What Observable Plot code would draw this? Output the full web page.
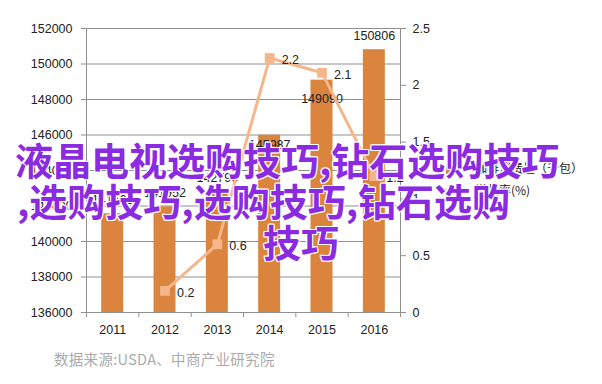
<!DOCTYPE html>
<html>
<head>
<meta charset="utf-8">
<script src="https://cdn.jsdelivr.net/npm/d3@7"></script>
<script src="https://cdn.jsdelivr.net/npm/@observablehq/plot@0.6"></script>
<style>
  html, body { margin: 0; padding: 0; background: #fff; }
  #wrap { position: relative; width: 602px; height: 384px; overflow: hidden; background: #fff; }
  #chart { position: absolute; left: 0; top: 0; }
  .legend-item { position: absolute; font-family: "Noto Sans CJK SC", sans-serif; font-size: 12px; color: #222; line-height: 16px; white-space: nowrap; }
  #source { position: absolute; left: 54px; top: 348px; font-family: "Noto Sans CJK SC", sans-serif; font-size: 14.5px; color: #aaaaaa; white-space: nowrap; letter-spacing: 0.3px; }
  .ov { position: absolute; font-family: "Noto Sans CJK SC", sans-serif; font-weight: 700; font-size: 38px; line-height: 41px; color: #8a2be2; white-space: nowrap;
        text-shadow: 1px 0 0 #fff, -1px 0 0 #fff, 0 1px 0 #fff, 0 -1px 0 #fff, 1px 1px 0 #fff, -1px -1px 0 #fff, 1px -1px 0 #fff, -1px 1px 0 #fff; }
</style>
</head>
<body>
<div id="wrap">
  <div id="chart"></div>
</div>
<script>
const years = [2011, 2012, 2013, 2014, 2015, 2016];
const consumption = [141565, 141952, 142796, 145987, 149090, 150806];
const growthRate = [null, 0.19, 0.6, 2.24, 2.11, 1.2];
const leftTicks = [136000, 138000, 140000, 142000, 144000, 146000, 148000, 150000, 152000];
const rightTicks = [0, 0.5, 1, 1.5, 2, 2.5];
const seriesNames = ["咖啡消费量（千包）", "增长率(%)"];
const sourceNote = "数据来源:USDA、中商产业研究院";
const overlayLines = ["液晶电视选购技巧,钻石选购技巧", ",选购技巧,选购技巧,钻石选购", "技巧"];

const BAR = "#db843d";
const LINE = "#f6b68c";
const GRID = "#8f8f8f";

const yMin = leftTicks[0], yMax = leftTicks[leftTicks.length - 1];
const rMax = rightTicks[rightTicks.length - 1];
const toLeft = r => yMin + r * (yMax - yMin) / rMax;
const fromLeft = v => (v - yMin) * rMax / (yMax - yMin);

const bars = years.map((year, i) => ({year, value: consumption[i]}));
const growth = years.map((year, i) => ({year, rate: growthRate[i]})).filter(d => d.rate != null);
const boundaries = years.map(y => y - 0.5).concat([years[years.length - 1] + 0.5]);
const halfBar = 0.21;

const labelAbove = bars.filter(d => d.year !== 2014 && d.year !== 2015);
const label2014 = bars.filter(d => d.year === 2014);
const label2015 = bars.filter(d => d.year === 2015);

const textOpts = (dy) => ({x: "year", y: "value", text: d => String(d.value), dy, fill: "#222", fontSize: 12.5});

const chart = Plot.plot({
  width: 602,
  height: 340,
  marginLeft: 86,
  marginRight: 202,
  marginTop: 28,
  marginBottom: 28,
  x: {domain: [boundaries[0], boundaries[boundaries.length - 1]], label: null},
  y: {domain: [yMin, yMax], label: null},
  style: {fontFamily: "Liberation Sans, Arial, sans-serif", fontSize: "12.5px", color: "#222", background: "transparent"},
  marks: [
    Plot.gridY(leftTicks, {stroke: GRID, strokeOpacity: 1}),
    Plot.rectY(bars, {x1: d => d.year - halfBar, x2: d => d.year + halfBar, y1: yMin, y2: "value", fill: BAR}),
    Plot.frame({stroke: GRID}),
    Plot.axisY({ticks: leftTicks, tickSize: 5, tickPadding: 9, tickFormat: d => String(d), stroke: GRID, fill: "#222"}),
    Plot.axisY({anchor: "right", ticks: rightTicks.map(toLeft), tickSize: 5, tickPadding: 7, tickFormat: d => String(+fromLeft(d).toFixed(2)), stroke: GRID, fill: "#222"}),
    Plot.axisX({ticks: boundaries, tickSize: 5, tickFormat: () => "", stroke: GRID}),
    Plot.axisX({ticks: years, tickSize: 0, tickPadding: 13, tickFormat: d => String(d), fill: "#222"}),
    Plot.text(labelAbove, textOpts(-14)),
    Plot.text(label2014, textOpts(10)),
    Plot.text(label2015, textOpts(19)),
    Plot.line(growth, {x: "year", y: d => toLeft(d.rate), stroke: LINE, strokeWidth: 3}),
    Plot.dot(growth, {x: "year", y: d => toLeft(d.rate), symbol: "square", r: 5.5, fill: LINE, stroke: "none"}),
    Plot.text(growth, {x: "year", y: d => toLeft(d.rate), text: d => d.rate.toFixed(1), dx: 12, dy: 2, textAnchor: "start", fill: "#222", fontSize: 12.5})
  ]
});
document.getElementById("chart").appendChild(chart);

const wrap = document.getElementById("wrap");

// Legend
const leg1 = document.createElement("div");
leg1.className = "legend-item";
leg1.style.left = "446px"; leg1.style.top = "160px";
leg1.innerHTML = `<span style="display:inline-block;width:9px;height:9px;background:${BAR};vertical-align:-1px;margin-right:20px"></span>${seriesNames[0]}`;
wrap.appendChild(leg1);

const leg2 = document.createElement("div");
leg2.className = "legend-item";
leg2.style.left = "440px"; leg2.style.top = "182px";
leg2.innerHTML = `<svg width="28" height="12" style="vertical-align:-1px;margin-right:7px"><line x1="0" y1="6" x2="28" y2="6" stroke="${LINE}" stroke-width="3"/><rect x="9.5" y="1.5" width="9" height="9" fill="${LINE}"/></svg>${seriesNames[1]}`;
wrap.appendChild(leg2);

// Source note
const src = document.createElement("div");
src.id = "source";
src.textContent = sourceNote;
wrap.appendChild(src);

// Overlay title text
const ovPos = [[15, 138], [17, 179], [263, 220]];
overlayLines.forEach((t, i) => {
  const d = document.createElement("div");
  d.className = "ov";
  d.style.left = ovPos[i][0] + "px";
  d.style.top = ovPos[i][1] + "px";
  d.textContent = t;
  wrap.appendChild(d);
});
</script>
</body>
</html>
